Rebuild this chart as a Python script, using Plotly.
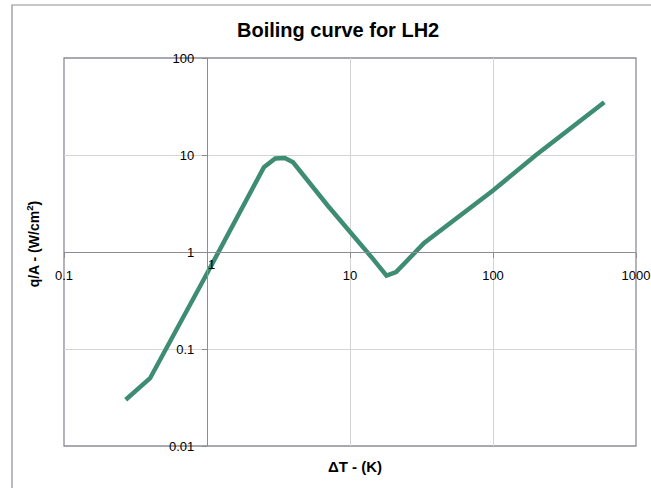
import plotly.graph_objects as go

# Data (log-log boiling curve)
delta_t = [0.27, 0.4, 1.0, 2.5, 3.0, 3.5, 4.0, 7.0, 14.0, 18.0, 21.0, 33.0, 100.0, 200.0, 600.0]
q_flux = [0.03, 0.05, 0.6, 7.5, 9.2, 9.3, 8.4, 3.0, 0.9, 0.57, 0.62, 1.24, 4.3, 10.0, 35.0]

# x = 1 label is drawn separately (offset from the axis crossing, as in the reference)
x_ticks = [0.1, 10, 100, 1000]
x_tick_text = ["0.1", "10", "100", "1000"]
y_ticks = [0.01, 0.1, 1, 10, 100]
y_tick_text = ["0.01", "0.1", "1", "10", "100"]

title_text = "<b>Boiling curve for LH2</b>"
x_title = "<b>ΔT - (K)</b>"
y_title = "<b>q/A - (W/cm<sup>2</sup>)</b>"

FONT = "Liberation Sans, Arial, sans-serif"
LINE_COLOR = "#3e8c72"
AXIS_COLOR = "#8c8c96"

fig = go.Figure()
fig.add_trace(go.Scatter(
    x=delta_t, y=q_flux, mode="lines",
    line=dict(color=LINE_COLOR, width=4.5),
    showlegend=False, hoverinfo="x+y",
))

fig.update_layout(
    width=651, height=488,
    margin=dict(l=64, r=15, t=58, b=42),
    paper_bgcolor="white", plot_bgcolor="white",
    font=dict(family=FONT, size=13, color="black"),
    xaxis=dict(
        type="log", range=[-1, 3], domain=[0, 1],
        anchor="free", position=0.5, automargin=False,
        tickvals=x_ticks, ticktext=x_tick_text,
        showgrid=True, gridcolor="#d4d4d4", gridwidth=1,
        showline=True, linecolor=AXIS_COLOR, linewidth=1.3,
        ticks="outside", ticklen=5, tickcolor=AXIS_COLOR,
        ticklabelstandoff=6,
        tickfont=dict(family=FONT, size=13, color="black"),
        zeroline=False,
    ),
    yaxis=dict(
        type="log", range=[-2, 2], domain=[0, 1],
        anchor="free", position=0.25, automargin=False,
        tickvals=y_ticks, ticktext=y_tick_text,
        showgrid=True, gridcolor="#d4d4d4", gridwidth=1,
        showline=True, linecolor=AXIS_COLOR, linewidth=1.3,
        ticks="outside", ticklen=5, tickcolor=AXIS_COLOR,
        ticklabelstandoff=5,
        tickfont=dict(family=FONT, size=13, color="black"),
        zeroline=False,
    ),
    shapes=[
        # plot area border
        dict(type="rect", xref="paper", yref="paper", x0=0, x1=1, y0=0, y1=1,
             line=dict(color=AXIS_COLOR, width=1.3), layer="below"),
        # outer chart area border
        dict(type="rect", xref="paper", yref="paper", x0=-0.0909, x1=1.2, y0=-0.3, y1=1.1366,
             line=dict(color=AXIS_COLOR, width=1.2)),
    ],
    annotations=[
        dict(text=title_text, xref="paper", yref="paper", x=0.479, y=1.072,
             xanchor="center", yanchor="middle",
             showarrow=False, font=dict(family=FONT, size=20, color="black")),
        dict(text=x_title, xref="paper", yref="paper", x=0.509, y=-0.054,
             xanchor="center", yanchor="middle",
             showarrow=False, font=dict(family=FONT, size=15, color="black")),
        dict(text=y_title, xref="paper", yref="paper", x=-0.054, y=0.52, textangle=-90,
             xanchor="center", yanchor="middle",
             showarrow=False, font=dict(family=FONT, size=14, color="black")),
        # x=1 tick label sits just right of the crossing point
        dict(text="1", x=0, y=0, xref="x", yref="y", showarrow=False,
             xshift=4, yshift=-12, font=dict(family=FONT, size=13, color="black")),
    ],
)

fig.write_html("out.html")
